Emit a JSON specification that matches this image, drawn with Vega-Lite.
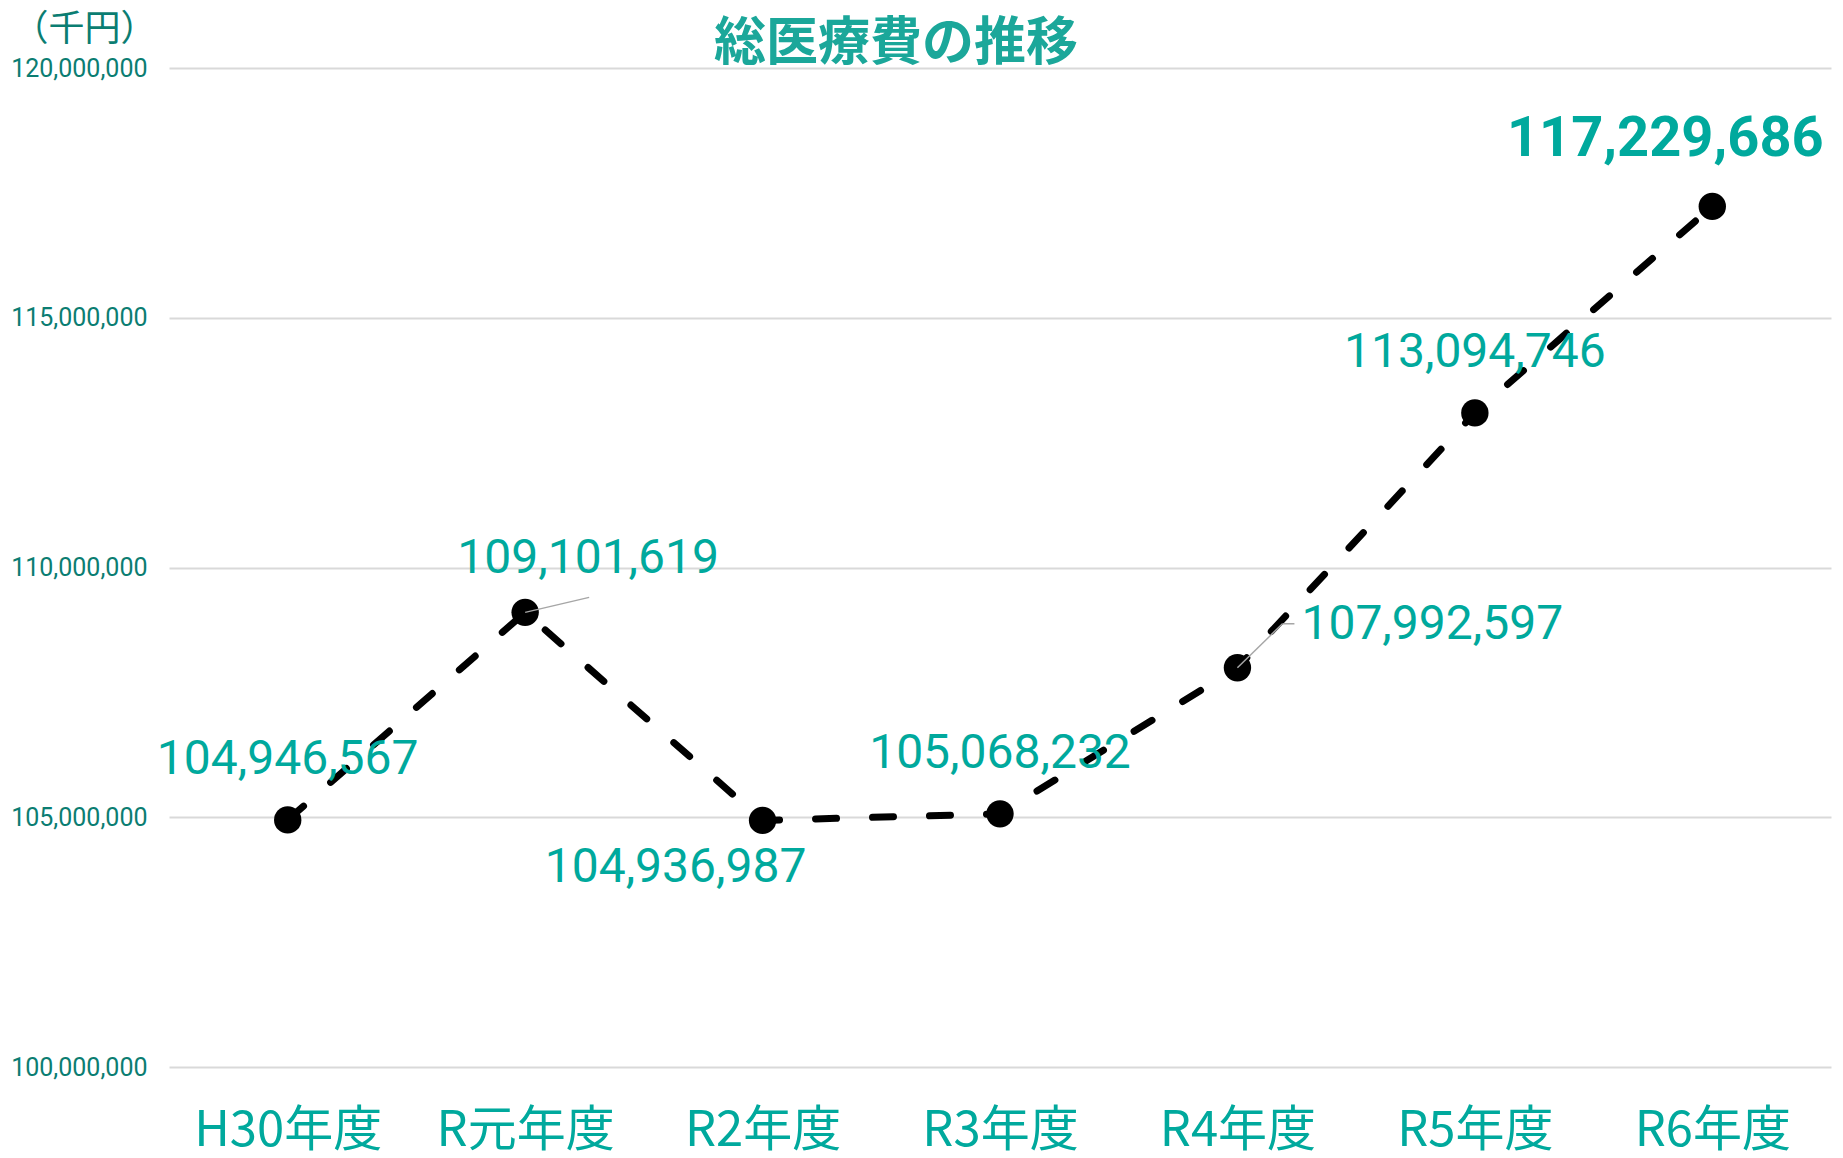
{
  "$schema": "https://vega.github.io/schema/vega-lite/v6.json",
  "autosize": "none",
  "width": 1662,
  "height": 999,
  "padding": {"left": 169, "top": 68, "right": 12, "bottom": 91},
  "background": "white",
  "config": {"view": {"stroke": null}},
  "title": {
    "text": "総医療費の推移",
    "font": "Noto Sans CJK JP",
    "fontSize": 52,
    "fontWeight": "bold",
    "color": "#1BA79A",
    "anchor": "middle",
    "frame": "group",
    "dx": -104,
    "dy": 118,
    "offset": 6,
    "baseline": "bottom"
  },
  "data": {
    "values": [
      {"year": "H30年度", "value": 104946567},
      {"year": "R元年度", "value": 109101619},
      {"year": "R2年度", "value": 104936987},
      {"year": "R3年度", "value": 105068232},
      {"year": "R4年度", "value": 107992597},
      {"year": "R5年度", "value": 113094746},
      {"year": "R6年度", "value": 117229686}
    ]
  },
  "encoding": {
    "x": {
      "field": "year",
      "type": "ordinal",
      "sort": null,
      "scale": {"type": "point", "padding": 0.5},
      "axis": {
        "title": null,
        "domain": false,
        "ticks": false,
        "labelAngle": 0,
        "labelFont": "Noto Sans CJK JP",
        "labelFontSize": 49,
        "labelColor": "#00A99D",
        "labelBaseline": "middle",
        "labelPadding": 63,
        "labelLimit": 0
      }
    },
    "y": {
      "field": "value",
      "type": "quantitative",
      "scale": {"domain": [100000000, 120000000], "zero": false, "nice": false},
      "axis": {
        "values": [100000000, 105000000, 110000000, 115000000, 120000000],
        "format": ",d",
        "domain": false,
        "ticks": false,
        "grid": true,
        "gridColor": "#D9D9D9",
        "gridWidth": 2,
        "labelFont": "Roboto",
        "labelFontSize": 25,
        "labelColor": "#0B7D72",
        "labelPadding": 22,
        "title": "（千円）",
        "titleFont": "Noto Sans CJK JP",
        "titleFontSize": 36,
        "titleFontWeight": "normal",
        "titleColor": "#0B7D72",
        "titleAngle": 0,
        "titleAlign": "center",
        "titleBaseline": "middle",
        "titleX": -85,
        "titleY": -39
      }
    }
  },
  "layer": [
    {
      "mark": {"type": "line", "color": "black", "strokeWidth": 7, "strokeDash": [21, 36], "strokeCap": "round"}
    },
    {
      "mark": {"type": "point", "filled": true, "color": "black", "size": 750, "opacity": 1}
    },
    {
      "transform": [{"filter": "datum.year == 'R元年度'"}],
      "mark": {"type": "rule", "color": "#A6A6A6", "strokeWidth": 1.5, "x2Offset": 64, "y2Offset": -15},
      "encoding": {"x2": {"field": "year"}, "y2": {"field": "value"}}
    },
    {
      "transform": [{"filter": "datum.year == 'R4年度'"}],
      "mark": {"type": "rule", "color": "#A6A6A6", "strokeWidth": 1.5, "x2Offset": 45, "y2Offset": -44},
      "encoding": {"x2": {"field": "year"}, "y2": {"field": "value"}}
    },
    {
      "transform": [{"filter": "datum.year == 'R4年度'"}],
      "mark": {"type": "rule", "color": "#A6A6A6", "strokeWidth": 1.5, "xOffset": 45, "yOffset": -44, "x2Offset": 57, "y2Offset": -44},
      "encoding": {"x2": {"field": "year"}, "y2": {"field": "value"}}
    },
    {
      "transform": [{"filter": "datum.year == 'H30年度'"}],
      "mark": {"type": "text", "font": "Roboto", "fontSize": 48, "color": "#00A99D", "dy": -60, "baseline": "middle"},
      "encoding": {"text": {"field": "value", "type": "quantitative", "format": ",d"}}
    },
    {
      "transform": [{"filter": "datum.year == 'R元年度'"}],
      "mark": {"type": "text", "font": "Roboto", "fontSize": 48, "color": "#00A99D", "dx": 63, "dy": -53, "baseline": "middle"},
      "encoding": {"text": {"field": "value", "type": "quantitative", "format": ",d"}}
    },
    {
      "transform": [{"filter": "datum.year == 'R2年度'"}],
      "mark": {"type": "text", "font": "Roboto", "fontSize": 48, "color": "#00A99D", "dx": -87, "dy": 48, "baseline": "middle"},
      "encoding": {"text": {"field": "value", "type": "quantitative", "format": ",d"}}
    },
    {
      "transform": [{"filter": "datum.year == 'R3年度'"}],
      "mark": {"type": "text", "font": "Roboto", "fontSize": 48, "color": "#00A99D", "dy": -60, "baseline": "middle"},
      "encoding": {"text": {"field": "value", "type": "quantitative", "format": ",d"}}
    },
    {
      "transform": [{"filter": "datum.year == 'R4年度'"}],
      "mark": {"type": "text", "font": "Roboto", "fontSize": 48, "color": "#00A99D", "dx": 64, "dy": -43, "align": "left", "baseline": "middle"},
      "encoding": {"text": {"field": "value", "type": "quantitative", "format": ",d"}}
    },
    {
      "transform": [{"filter": "datum.year == 'R5年度'"}],
      "mark": {"type": "text", "font": "Roboto", "fontSize": 48, "color": "#00A99D", "dy": -60, "baseline": "middle"},
      "encoding": {"text": {"field": "value", "type": "quantitative", "format": ",d"}}
    },
    {
      "transform": [{"filter": "datum.year == 'R6年度'"}],
      "mark": {"type": "text", "font": "Roboto", "fontSize": 56, "fontWeight": "bold", "color": "#00A99D", "dx": -47, "dy": -67, "baseline": "middle"},
      "encoding": {"text": {"field": "value", "type": "quantitative", "format": ",d"}}
    }
  ]
}
